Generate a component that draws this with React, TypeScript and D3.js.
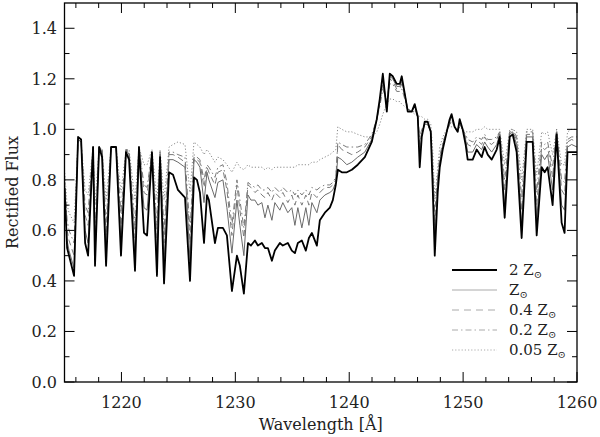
import React from "react";
import * as d3 from "d3";

const wavelength = [
  1215.0, 1215.23, 1215.4, 1215.84, 1216.19, 1216.46, 1216.81, 1217.07, 1217.51, 1217.68,
  1218.04, 1218.3, 1218.65, 1219.09, 1219.53, 1219.96, 1220.4, 1220.67, 1221.19, 1221.54,
  1221.98, 1222.25, 1222.68, 1223.12, 1223.39, 1223.74, 1224.18, 1224.53, 1224.96, 1225.58,
  1226.02, 1226.37, 1226.63, 1226.89, 1227.25, 1227.51, 1227.68, 1228.21, 1228.47, 1228.91,
  1229.26, 1229.7, 1230.14, 1230.4, 1230.75, 1231.11, 1231.37, 1231.72, 1231.98, 1232.33,
  1232.6, 1232.86, 1233.21, 1233.47, 1233.91, 1234.17, 1234.61, 1234.96, 1235.23, 1235.49,
  1235.84, 1236.19, 1236.46, 1236.72, 1237.16, 1237.42, 1237.86, 1238.3, 1238.56, 1238.82,
  1239.0, 1239.35, 1239.79, 1240.23, 1240.75, 1241.37, 1241.98, 1242.42, 1242.68, 1242.95,
  1243.3, 1243.56, 1243.82, 1244.17, 1244.44, 1244.61, 1244.88, 1245.14, 1245.49, 1245.75,
  1246.02, 1246.19, 1246.37, 1246.63, 1246.89, 1247.16, 1247.33, 1247.51, 1247.77, 1247.95,
  1248.21, 1248.56, 1248.82, 1248.99, 1249.25, 1249.52, 1249.7, 1249.96, 1250.22, 1250.4,
  1250.84, 1251.19, 1251.63, 1251.89, 1252.16, 1252.51, 1252.95, 1253.21, 1253.65, 1254.09,
  1254.35, 1254.7, 1255.14, 1255.58, 1256.11, 1256.46, 1256.9, 1257.16, 1257.42, 1257.86,
  1258.21, 1258.65, 1258.91, 1259.17, 1259.53, 1260.0,
];

const flux2Z = [
  0.77, 0.53, 0.5, 0.42, 0.97, 0.96, 0.55, 0.5, 0.93, 0.46,
  0.93, 0.89, 0.46, 0.93, 0.93, 0.5, 0.91, 0.88, 0.44, 0.93,
  0.59, 0.58, 0.91, 0.42, 0.89, 0.39, 0.83, 0.82, 0.76, 0.73,
  0.4, 0.81, 0.8, 0.75, 0.55, 0.74, 0.72, 0.55, 0.61, 0.61,
  0.58, 0.36, 0.5, 0.46, 0.35, 0.55, 0.54, 0.56, 0.54, 0.55,
  0.53, 0.53, 0.48, 0.52, 0.55, 0.54, 0.55, 0.52, 0.51, 0.55,
  0.56, 0.52, 0.57, 0.59, 0.54, 0.64, 0.67, 0.69, 0.72, 0.78,
  0.84, 0.83, 0.83, 0.84, 0.86, 0.89, 0.95, 1.04, 1.12, 1.22,
  1.07, 1.22, 1.21, 1.18, 1.18, 1.21, 1.14, 1.07, 1.07, 1.1,
  1.05, 0.85, 0.97, 1.03, 1.03, 0.99, 0.77, 0.5, 0.75, 0.85,
  0.92, 0.99, 1.04, 1.06, 1.01, 0.99, 1.04, 1.0, 0.94, 0.88,
  0.88, 0.92, 0.89, 0.93, 0.9, 0.88, 0.92, 0.97, 0.65, 0.97,
  0.98, 0.91, 0.57, 0.95, 0.95, 0.58, 0.85, 0.83, 0.85, 0.7,
  0.98, 0.63, 0.59, 0.91, 0.91, 0.91,
];

const flux1Z = [
  0.78, 0.56, 0.52, 0.45, 0.96, 0.95, 0.6, 0.55, 0.93, 0.5,
  0.93, 0.91, 0.52, 0.93, 0.93, 0.55, 0.92, 0.9, 0.5, 0.93,
  0.69, 0.68, 0.9, 0.5, 0.9, 0.47, 0.88, 0.88, 0.87, 0.85,
  0.48, 0.88, 0.87, 0.85, 0.71, 0.83, 0.8, 0.73, 0.79, 0.8,
  0.69, 0.51, 0.72, 0.62, 0.5, 0.74, 0.72, 0.72, 0.7, 0.71,
  0.65, 0.7, 0.64, 0.71, 0.68, 0.71, 0.67, 0.69, 0.62, 0.69,
  0.61, 0.69, 0.62, 0.71, 0.67, 0.72, 0.74, 0.75, 0.76, 0.79,
  0.89, 0.88, 0.86, 0.87, 0.89, 0.91, 0.96, 1.04, 1.11, 1.2,
  1.09, 1.21, 1.2, 1.17, 1.17, 1.19, 1.14, 1.08, 1.07, 1.09,
  1.05, 0.9, 0.98, 1.02, 1.02, 0.99, 0.8, 0.56, 0.78, 0.87,
  0.93, 0.99, 1.03, 1.05, 1.01, 0.99, 1.03, 1.0, 0.96, 0.91,
  0.91, 0.94, 0.92, 0.95, 0.93, 0.91, 0.94, 0.98, 0.7, 0.98,
  0.99, 0.94, 0.62, 0.97, 0.97, 0.64, 0.9, 0.88, 0.9, 0.76,
  0.99, 0.7, 0.68, 0.93, 0.94, 0.93,
];

const flux04Z = [
  0.8, 0.6, 0.56, 0.5, 0.96, 0.95, 0.66, 0.62, 0.93, 0.56,
  0.93, 0.92, 0.58, 0.93, 0.93, 0.62, 0.92, 0.91, 0.57, 0.93,
  0.75, 0.74, 0.91, 0.57, 0.91, 0.55, 0.9, 0.9, 0.89, 0.87,
  0.55, 0.89, 0.88, 0.87, 0.77, 0.85, 0.83, 0.78, 0.83, 0.84,
  0.76, 0.58, 0.78, 0.68, 0.57, 0.78, 0.77, 0.75, 0.76, 0.74,
  0.73, 0.75, 0.72, 0.75, 0.73, 0.75, 0.71, 0.74, 0.7, 0.74,
  0.7, 0.74, 0.7, 0.75, 0.73, 0.75, 0.77, 0.77, 0.78, 0.8,
  0.94, 0.92, 0.91, 0.9, 0.91, 0.93, 0.97, 1.04, 1.1, 1.18,
  1.1, 1.2, 1.19, 1.16, 1.16, 1.18, 1.13, 1.08, 1.07, 1.08,
  1.05, 0.94, 0.99, 1.02, 1.02, 0.99, 0.83, 0.62, 0.8, 0.88,
  0.94, 0.99, 1.02, 1.04, 1.01, 0.99, 1.02, 1.0, 0.97, 0.94,
  0.93, 0.96, 0.94, 0.97, 0.95, 0.94, 0.96, 0.99, 0.76, 0.99,
  0.99, 0.96, 0.68, 0.98, 0.98, 0.7, 0.93, 0.92, 0.93, 0.81,
  0.99, 0.76, 0.74, 0.95, 0.96, 0.95,
];

const flux02Z = [
  0.82, 0.64, 0.6, 0.55, 0.96, 0.95, 0.7, 0.67, 0.93, 0.61,
  0.93, 0.92, 0.63, 0.93, 0.93, 0.67, 0.92, 0.91, 0.62, 0.93,
  0.78, 0.77, 0.91, 0.62, 0.91, 0.6, 0.91, 0.91, 0.9, 0.89,
  0.6, 0.9, 0.89, 0.88, 0.8, 0.86, 0.85, 0.81, 0.85, 0.86,
  0.79, 0.62, 0.8, 0.72, 0.61, 0.79, 0.78, 0.77, 0.78, 0.76,
  0.76, 0.77, 0.75, 0.77, 0.75, 0.77, 0.75, 0.76, 0.74, 0.76,
  0.74, 0.76, 0.74, 0.77, 0.76, 0.77, 0.78, 0.78, 0.79, 0.81,
  0.95, 0.94, 0.93, 0.93, 0.93, 0.94, 0.98, 1.04, 1.09, 1.16,
  1.11, 1.18, 1.18, 1.15, 1.15, 1.16, 1.12, 1.08, 1.07, 1.07,
  1.05, 0.97, 1.0, 1.02, 1.02, 0.99, 0.86, 0.67, 0.82, 0.89,
  0.95, 0.99, 1.02, 1.03, 1.01, 0.99, 1.01, 1.0, 0.98, 0.96,
  0.95, 0.97, 0.96, 0.98, 0.96, 0.96, 0.97, 0.99, 0.8, 0.99,
  1.0, 0.97, 0.73, 0.99, 0.99, 0.75, 0.95, 0.94, 0.95, 0.85,
  1.0, 0.8, 0.79, 0.96, 0.97, 0.97,
];

const flux005Z = [
  0.84, 0.7, 0.67, 0.63, 0.96, 0.95, 0.76, 0.74, 0.93, 0.7,
  0.93, 0.92, 0.72, 0.93, 0.93, 0.75, 0.92, 0.92, 0.72, 0.93,
  0.86, 0.86, 0.92, 0.72, 0.92, 0.72, 0.93, 0.94, 0.95, 0.94,
  0.75, 0.95, 0.94, 0.93, 0.9, 0.92, 0.91, 0.87, 0.89, 0.88,
  0.86, 0.83, 0.87, 0.85, 0.84, 0.86, 0.85, 0.85, 0.85, 0.85,
  0.84, 0.85, 0.84, 0.85, 0.85, 0.85, 0.85, 0.85, 0.85, 0.86,
  0.86, 0.86, 0.86, 0.87, 0.87, 0.88, 0.89, 0.9, 0.91, 0.92,
  1.01, 1.0, 0.99, 0.99, 0.98, 0.97, 0.97, 0.99, 1.02, 1.06,
  1.1, 1.12, 1.12, 1.11, 1.11, 1.1, 1.09, 1.08, 1.07, 1.06,
  1.06, 1.05, 1.05, 1.04, 1.04, 1.02, 0.92, 0.72, 0.85, 0.93,
  0.97, 1.0, 1.01, 1.01, 1.01, 1.0, 1.01, 1.0, 0.99, 0.99,
  0.99, 1.0, 1.0, 1.01, 1.0, 1.0, 1.0, 1.0, 0.86, 1.0,
  1.0, 0.99, 0.8, 1.0, 1.0, 0.82, 0.99, 0.98, 0.99, 0.9,
  1.0, 0.86, 0.86, 0.99, 1.0, 1.0,
];

const seriesLabels = ["2", "", "0.4", "0.2", "0.05"];
const xMajorTicks = [1220, 1230, 1240, 1250, 1260];
const yMajorTicks = [0, 0.2, 0.4, 0.6, 0.8, 1.0, 1.2, 1.4];

const FONT = "'DejaVu Serif', serif";

export default function App() {
  const left = 64.5;
  const right = 577;
  const top = 3;
  const bottom = 382;

  const x = d3.scaleLinear().domain([1215, 1260]).range([left, right]);
  const y = d3.scaleLinear().domain([0, 1.5]).range([bottom, top]);

  const makeLine = (vals: number[]) =>
    d3
      .line<number>()
      .x((_, i) => x(wavelength[i]))
      .y((d) => y(d))(vals.slice(0, wavelength.length)) || "";

  const series = [
    { vals: flux005Z, stroke: "#8a8a8a", width: 1, dash: "1.2,2" },
    { vals: flux02Z, stroke: "#7a7a7a", width: 1, dash: "6,3,1.5,3" },
    { vals: flux04Z, stroke: "#7a7a7a", width: 1, dash: "6,4" },
    { vals: flux1Z, stroke: "#6a6a6a", width: 1, dash: "" },
    { vals: flux2Z, stroke: "#000", width: 1.8, dash: "" },
  ];

  const xMinor = d3.range(1216, 1260, 2).filter((v) => v % 10 !== 0);
  const yMinor = d3.range(1, 15, 2).map((v) => v / 10);

  const legend = [
    { stroke: "#000", width: 1.8, dash: "", label: seriesLabels[0] },
    { stroke: "#aaa", width: 1, dash: "", label: seriesLabels[1] },
    { stroke: "#aaa", width: 1, dash: "7,5", label: seriesLabels[2] },
    { stroke: "#aaa", width: 1, dash: "6,3,1.5,3", label: seriesLabels[3] },
    { stroke: "#aaa", width: 1, dash: "1.2,2", label: seriesLabels[4] },
  ];

  return (
    <div style={{ position: "fixed", left: 0, top: 0 }}>
      <svg width={600} height={437} style={{ display: "block", background: "#fff" }}>
        <defs>
          <clipPath id="plotclip">
            <rect x={left} y={top} width={right - left} height={bottom - top} />
          </clipPath>
        </defs>
        <g clipPath="url(#plotclip)" fill="none" strokeLinejoin="round">
          {series.map((s, i) => (
            <path
              key={i}
              d={makeLine(s.vals)}
              stroke={s.stroke}
              strokeWidth={s.width}
              strokeDasharray={s.dash || undefined}
            />
          ))}
        </g>

        <rect x={left} y={top} width={right - left} height={bottom - top} fill="none" stroke="#000" strokeWidth={1.3} />

        <g stroke="#000" strokeWidth={1}>
          {xMajorTicks.map((t) => (
            <g key={"xm" + t}>
              <line x1={x(t)} x2={x(t)} y1={bottom} y2={bottom - 10} />
              <line x1={x(t)} x2={x(t)} y1={top} y2={top + 10} />
            </g>
          ))}
          {xMinor.map((t) => (
            <g key={"xn" + t}>
              <line x1={x(t)} x2={x(t)} y1={bottom} y2={bottom - 5} />
              <line x1={x(t)} x2={x(t)} y1={top} y2={top + 5} />
            </g>
          ))}
          {yMajorTicks.map((t) => (
            <g key={"ym" + t}>
              <line x1={left} x2={left + 10} y1={y(t)} y2={y(t)} />
              <line x1={right} x2={right - 10} y1={y(t)} y2={y(t)} />
            </g>
          ))}
          {yMinor.map((t) => (
            <g key={"yn" + t}>
              <line x1={left} x2={left + 5} y1={y(t)} y2={y(t)} />
              <line x1={right} x2={right - 5} y1={y(t)} y2={y(t)} />
            </g>
          ))}
        </g>

        <g fontFamily={FONT} fontSize={16} fill="#222">
          {xMajorTicks.map((t) => (
            <text key={"xl" + t} x={x(t)} y={408} textAnchor="middle">
              {String(t)}
            </text>
          ))}
          {yMajorTicks.map((t) => (
            <text key={"yl" + t} x={57} y={y(t) + 6} textAnchor="end">
              {t.toFixed(1)}
            </text>
          ))}
          <text x={(left + right) / 2} y={430} textAnchor="middle">
            Wavelength [Å]
          </text>
          <text transform={`translate(18,${(top + bottom) / 2}) rotate(-90)`} textAnchor="middle">
            Rectified Flux
          </text>
        </g>

        <g fontFamily={FONT} fontSize={15} fill="#222">
          {legend.map((l, i) => {
            const ly = 270 + i * 20;
            return (
              <g key={"lg" + i}>
                <line
                  x1={452}
                  x2={497}
                  y1={ly}
                  y2={ly}
                  stroke={l.stroke}
                  strokeWidth={l.width}
                  strokeDasharray={l.dash || undefined}
                />
                <text x={509} y={ly + 5}>
                  {l.label ? l.label + " Z" : "Z"}
                  <tspan fontSize={10} dy={3}>⊙</tspan>
                </text>
              </g>
            );
          })}
        </g>
      </svg>
    </div>
  );
}
